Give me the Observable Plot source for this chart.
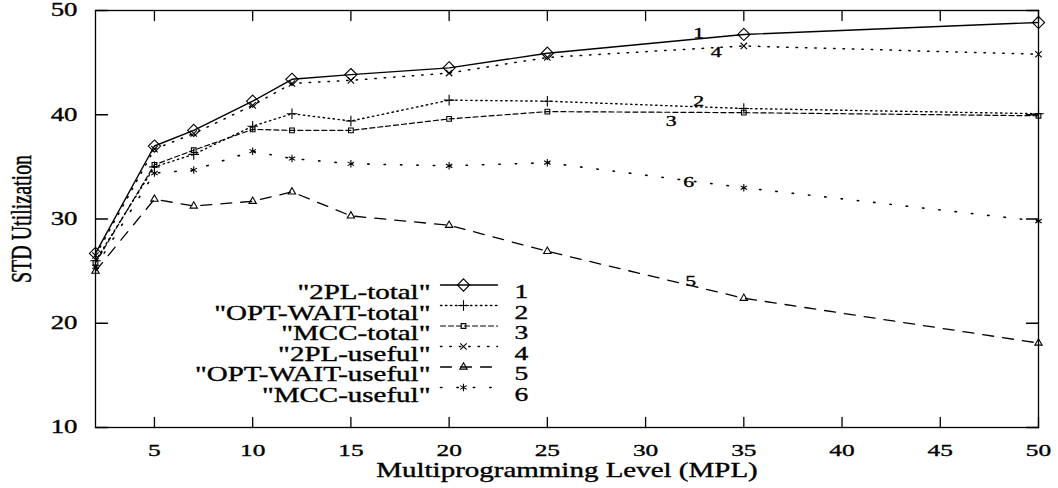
<!DOCTYPE html>
<html>
<head>
<meta charset="utf-8">
<script src="https://cdn.jsdelivr.net/npm/d3@7"></script>
<script src="https://cdn.jsdelivr.net/npm/@observablehq/plot@0.6"></script>
<style>
  html, body { margin: 0; padding: 0; background: #fff; }
  #chart { position: absolute; left: 0; top: 0; }
  #chart svg text { stroke: black; stroke-width: 0.35px; }
</style>
</head>
<body>
<div id="chart"></div>
<script>
// ---- data ----
const mpl = [2, 5, 7, 10, 12, 15, 20, 25, 35, 50];
const twoPLTotal     = [26.7, 37.0, 38.5, 41.3, 43.4, 43.85, 44.5, 45.9, 47.7, 48.85];
const optWaitTotal   = [26.0, 35.0, 36.2, 38.9, 40.1, 39.4, 41.4, 41.3, 40.6, 40.1];
const mccTotal       = [25.8, 35.2, 36.6, 38.6, 38.5, 38.5, 39.6, 40.3, 40.2, 39.9];
const twoPLUseful    = [26.5, 36.7, 38.2, 40.9, 43.0, 43.3, 44.0, 45.5, 46.6, 45.8];
const optWaitUseful  = [25.0, 31.9, 31.25, 31.7, 32.6, 30.3, 29.4, 26.9, 22.4, 18.1];
const mccUseful      = [25.4, 34.4, 34.7, 36.5, 35.8, 35.3, 35.1, 35.4, 33.0, 29.8];

const seriesNames = ['"2PL-total"', '"OPT-WAIT-total"', '"MCC-total"', '"2PL-useful"', '"OPT-WAIT-useful"', '"MCC-useful"'];
const seriesKeys = ["1", "2", "3", "4", "5", "6"];

// in-plot curve labels (data units)
const curveLabelX = [32.7, 32.7, 31.3, 33.6, 32.3, 32.2];
const curveLabelY = [47.8, 41.3, 39.4, 46.0, 24.0, 33.5];

const xTicks = [5, 10, 15, 20, 25, 30, 35, 40, 45, 50];
const yTicks = [10, 20, 30, 40, 50];

const xTitle = "Multiprogramming Level (MPL)";
const yTitle = "STD Utilization";

// ---- build table ----
const seriesValues = [twoPLTotal, optWaitTotal, mccTotal, twoPLUseful, optWaitUseful, mccUseful];
const rows = seriesValues.flatMap((vals, s) => vals.map((v, i) => ({x: mpl[i], y: v, s})));

// ---- styles ----
const styles = [
  {dash: null,      width: 1.4, symbol: "diamond2",  r: 5.5},
  {dash: "1.4,3.6", width: 1.4, symbol: "plus",      r: 3.5},
  {dash: "5,3",     width: 1.2, symbol: "square2",   r: 3},
  {dash: "1.4,8",   width: 1.5, symbol: "times",     r: 3},
  {dash: "11,9",    width: 1.3, symbol: "triangle2", r: 3.5},
  {dash: "1.4,15",  width: 1.6, symbol: "asterisk",  r: 3.5}
];

const lineShape = {draw(ctx, l) { ctx.moveTo(0, 0); ctx.lineTo(0, -l); }};

const marks = [];

// series lines + markers
styles.forEach((st, s) => {
  const d = rows.filter(r => r.s === s);
  marks.push(Plot.line(d, {x: "x", y: "y", stroke: "black", strokeWidth: st.width, strokeDasharray: st.dash}));
  marks.push(Plot.dot(d, {x: "x", y: "y", symbol: st.symbol, r: st.r, stroke: "black", strokeWidth: 1.1, fill: "none"}));
});

// frame
marks.push(Plot.frame({stroke: "black", strokeWidth: 1.3}));

// inward ticks on all four sides
marks.push(Plot.vector(xTicks, {x: d => d, frameAnchor: "bottom", length: 10, rotate: 0, anchor: "start", shape: lineShape, stroke: "black", strokeWidth: 1.3}));
marks.push(Plot.vector(xTicks, {x: d => d, frameAnchor: "top", length: 10, rotate: 180, anchor: "start", shape: lineShape, stroke: "black", strokeWidth: 1.3}));
marks.push(Plot.vector(yTicks, {y: d => d, frameAnchor: "left", length: 12, rotate: 90, anchor: "start", shape: lineShape, stroke: "black", strokeWidth: 1.3}));
marks.push(Plot.vector(yTicks, {y: d => d, frameAnchor: "right", length: 12, rotate: -90, anchor: "start", shape: lineShape, stroke: "black", strokeWidth: 1.3}));

// tick labels via axes
marks.push(Plot.axisX(xTicks, {anchor: "bottom", tickSize: 0, tickPadding: 16, fontSize: 17.5, label: null}));
marks.push(Plot.axisY(yTicks, {anchor: "left", tickSize: 0, tickPadding: 18, fontSize: 18.5, label: null}));

// axis titles (the y title is turned upright after rendering)
marks.push(Plot.text([xTitle], {frameAnchor: "bottom", dy: 49, fontSize: 20}));
marks.push(Plot.text([yTitle], {frameAnchor: "left", dx: -74, textAnchor: "middle", fontSize: 20}));

// curve labels
marks.push(Plot.text(seriesKeys, {x: (d, i) => curveLabelX[i], y: (d, i) => curveLabelY[i], text: d => d, fontSize: 15}));

// legend (inside the plot frame)
seriesNames.forEach((name, i) => {
  const dy = 274.5 + i * 20.5;
  const st = styles[i];
  marks.push(Plot.text([name], {frameAnchor: "top-left", dx: 335, dy, textAnchor: "end", fontSize: 20}));
  marks.push(Plot.vector([0], {frameAnchor: "top-left", dx: 345, dy, length: 57, rotate: 90, anchor: "start", shape: lineShape, stroke: "black", strokeWidth: st.width, strokeDasharray: st.dash}));
  marks.push(Plot.dot([0], {frameAnchor: "top-left", dx: 368, dy, symbol: st.symbol, r: st.r, stroke: "black", strokeWidth: 1.1, fill: "none"}));
  marks.push(Plot.text([seriesKeys[i]], {frameAnchor: "top-left", dx: 426, dy, textAnchor: "middle", fontSize: 19}));
});

const chart = Plot.plot({
  width: 1058,
  height: 488,
  marginLeft: 95,
  marginRight: 20,
  marginTop: 10,
  marginBottom: 61,
  style: {fontFamily: "'Liberation Serif', 'Times New Roman', serif", background: "white", color: "black", overflow: "visible"},
  x: {domain: [2, 50]},
  y: {domain: [10, 50]},
  marks
});

// horizontally stretched lettering, as in the scanned original
chart.querySelectorAll("text").forEach(t => {
  const tr = t.getAttribute("transform") || "";
  if (t.textContent === yTitle) t.setAttribute("transform", tr + " rotate(-90) scale(1,1.45)");
  else t.setAttribute("transform", tr + " scale(1.45,1)");
});

document.getElementById("chart").appendChild(chart);
</script>
</body>
</html>
